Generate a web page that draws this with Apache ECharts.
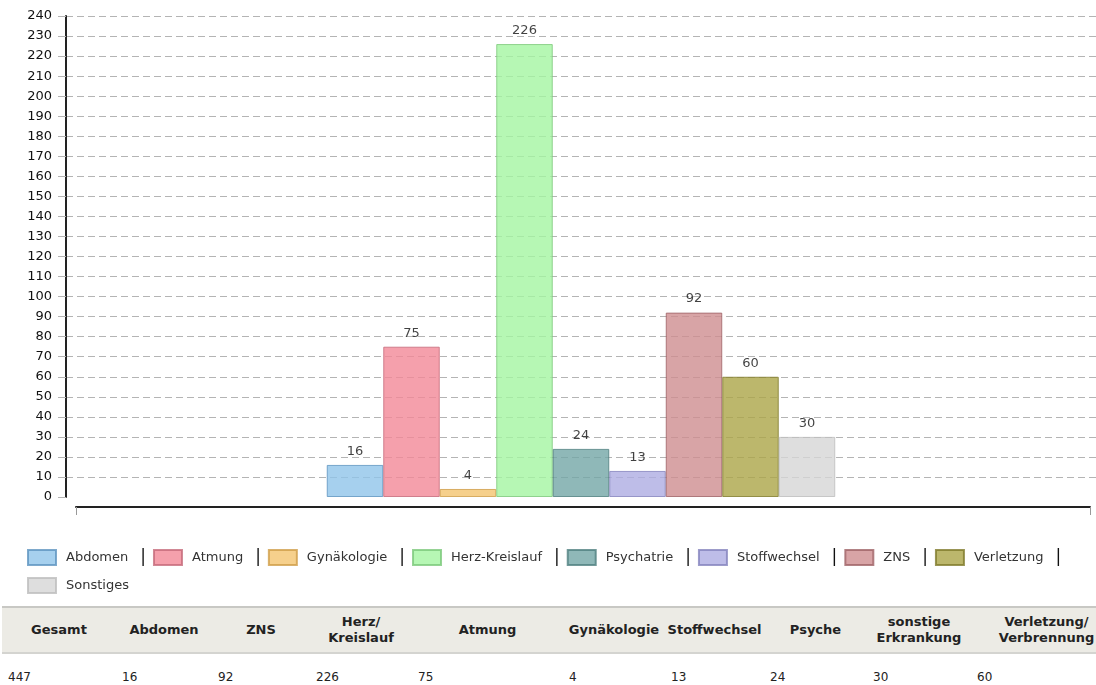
<!DOCTYPE html>
<html>
<head>
<meta charset="utf-8">
<script src="https://cdn.jsdelivr.net/npm/echarts@6/dist/echarts.min.js"></script>
<style>
  html, body { margin: 0; padding: 0; background: #fff; overflow: hidden; }
  #chart { width: 1096px; height: 600px; }
  #tbl { position: absolute; left: 2px; top: 606px; border-collapse: collapse; table-layout: fixed; width: 1120px;
         font-family: 'DejaVu Sans', sans-serif; color: #222; }
  #tbl th { background: #ecebe5; font-size: 13px; font-weight: bold; height: 44px; padding: 0;
            border-top: 2px solid #c8c8c4; border-bottom: 2px solid #d4d4d0; overflow: hidden; text-align: center; line-height: 16px; }
  #tbl td { font-size: 12px; padding: 16px 0 0 6px; text-align: left; overflow: hidden; white-space: nowrap; }
</style>
</head>
<body>
<div id="chart"></div>
<table id="tbl">
  <colgroup>
    <col style="width:114px"><col style="width:96px"><col style="width:98px"><col style="width:102px"><col style="width:151px">
    <col style="width:102px"><col style="width:99px"><col style="width:103px"><col style="width:104px"><col style="width:151px">
  </colgroup>
  <thead><tr id="thead"></tr></thead>
  <tbody><tr id="tbody"></tr></tbody>
</table>
<script>
// Kategorien + Werte (Balken)
var categories = ['Abdomen', 'Atmung', 'Gynäkologie', 'Herz-Kreislauf', 'Psychatrie', 'Stoffwechsel', 'ZNS', 'Verletzung', 'Sonstiges'];
var values = [16, 75, 4, 226, 24, 13, 92, 60, 30];

// y-Achse
var yMin = 0;
var yMax = 240;
var yStep = 10;

// Tabelle unten
var tableHeads = ['Gesamt', 'Abdomen', 'ZNS', 'Herz/ Kreislauf', 'Atmung', 'Gynäkologie', 'Stoffwechsel', 'Psyche', 'sonstige Erkrankung', 'Verletzung/ Verbrennung'];
var tableValues = [447, 16, 92, 226, 75, 4, 13, 24, 30, 60];

var fills = ['#90c4ea', '#f28897', '#f4c46f', '#a4f5a1', '#73a6a6', '#aeade2', '#ce8d90', '#aba547', '#d6d6d6'];
var borders = ['#5e93bf', '#c66a7a', '#cf9d48', '#7cc87a', '#4f8080', '#8583bd', '#9f6366', '#7f7a2c', '#bdbdbd'];

var font = "'DejaVu Sans', sans-serif";

document.getElementById('thead').innerHTML = tableHeads.map(function (h) { return '<th>' + h + '</th>'; }).join('');
document.getElementById('tbody').innerHTML = tableValues.map(function (v) { return '<td>' + v + '</td>'; }).join('');

var chart = echarts.init(document.getElementById('chart'));

var series = categories.map(function (name, i) {
    return {
        name: name,
        type: 'bar',
        xAxisIndex: 0,
        yAxisIndex: 0,
        data: [values[i]],
        barWidth: 56.5,
        barGap: '0%',
        itemStyle: { color: fills[i], borderColor: borders[i], borderWidth: 1, opacity: 0.8 },
        label: { show: true, position: 'top', distance: 7, color: '#111', fontSize: 13, fontFamily: font },
        emphasis: { disabled: true }
    };
});

var last = categories[categories.length - 1];

var option = {
    animation: false,
    backgroundColor: '#fff',
    grid: [
        { left: 66, right: 0, top: 16, bottom: 103 },
        { left: 76, right: 6, top: 16, bottom: 103 }   // versetzte x-Achse (Pseudo-3D)
    ],
    legend: {
        data: categories,
        left: 22,
        top: 542,
        width: 1060,
        itemWidth: 28,
        itemHeight: 15,
        itemGap: 7,
        icon: 'rect',
        formatter: function (name) {
            return name === last ? name : name + '{s||}';
        },
        textStyle: {
            fontSize: 13,
            color: '#333',
            fontFamily: font,
            lineHeight: 21,
            padding: [0, 0, 0, 5],
            rich: {
                s: { fontSize: 17, color: '#111', lineHeight: 21, padding: [0, 0, 0, 12] }
            }
        }
    },
    xAxis: [
        {
            gridIndex: 0,
            type: 'category',
            data: [''],
            axisLine: { show: false },
            axisTick: { show: false },
            axisLabel: { show: false }
        },
        {
            gridIndex: 1,
            type: 'value',
            min: 0,
            max: 1,
            interval: 1,
            offset: 10,
            axisLine: { show: true, onZero: false, lineStyle: { color: '#222', width: 2 } },
            axisTick: { show: true, length: 8, lineStyle: { color: '#999' } },
            axisLabel: { show: false },
            splitLine: { show: false }
        }
    ],
    yAxis: [
        {
            gridIndex: 0,
            type: 'value',
            min: yMin,
            max: yMax,
            interval: yStep,
            axisLine: { show: true, lineStyle: { color: '#222', width: 2 } },
            axisTick: { show: true, length: 8, lineStyle: { color: '#b4b4b4' } },
            axisLabel: { margin: 14, color: '#111', fontSize: 13, fontFamily: font },
            splitLine: { show: true, showMinLine: false, lineStyle: { color: '#b4b4b4', type: [7, 4] } }
        },
        { gridIndex: 1, type: 'value', min: 0, max: 1, show: false }
    ],
    series: series
};

chart.setOption(option);
</script>
</body>
</html>
